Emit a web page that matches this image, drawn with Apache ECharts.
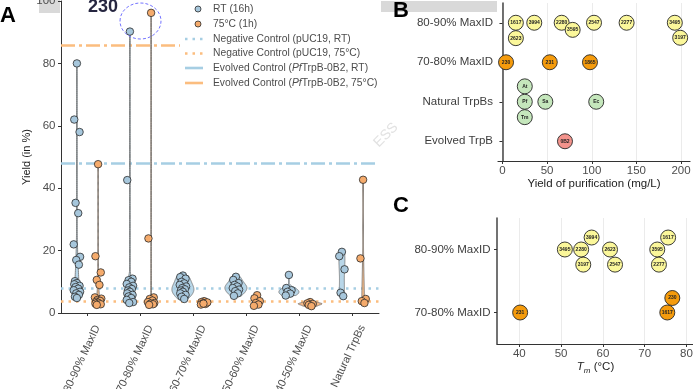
<!DOCTYPE html>
<html>
<head>
<meta charset="utf-8">
<script src="https://cdn.jsdelivr.net/npm/echarts@6.0.0/dist/echarts.min.js"></script>
<style>
html,body{margin:0;padding:0;background:#ffffff;}
#chart{width:693px;height:389px;}
</style>
</head>
<body>
<div id="chart"></div>
<script>
// ---------------- Data ----------------
// Panel A
const categoriesA = ['80-90% MaxID','70-80% MaxID','60-70% MaxID','50-60% MaxID','40-50% MaxID','Natural TrpBs'];
const yTicksA = [0, 20, 40, 60, 80, 100];
const rtYield = [
  [80, 62, 58, 35.3, 32, 22, 18, 17, 15.5, 10.2, 9.6, 9.2, 8.7, 8.3, 7.8, 7.3, 6.8, 6.3, 5.8, 5.2, 4.8],
  [90.2, 42.6, 11, 10.5, 10, 9.3, 8.7, 8.2, 7.7, 7.2, 6.8, 6.3, 5.8, 5.3, 4.8, 4.2, 3.5, 3.2],
  [12, 11.5, 11, 10, 9.5, 9, 8.5, 8, 7.6, 7.2, 6.8, 6.3, 5.8, 5.2, 4.5],
  [11.6, 10.6, 9.6, 9, 8.5, 8, 7.5, 7, 6.3, 5.5],
  [12.2, 8, 7.3, 6.8, 6.2, 5.6],
  [19.6, 18.2, 14, 6.5, 5.4]
];
const hotYield = [
  [47.7, 18.2, 13, 10.6, 9, 5, 4.6, 4.2, 3.9, 3.6, 3.3, 3.0, 2.8, 2.6],
  [96.2, 23.9, 5, 4.5, 4, 3.5, 3.2, 3, 2.8, 2.6],
  [3.8, 3.5, 3.3, 3.1, 2.9, 2.7, 3.4, 3.0],
  [5.7, 4.7, 3.8, 3.2, 2.7, 2.3],
  [3.5, 3.1, 2.9, 2.6, 2.2],
  [42.7, 17.5, 4.5, 3.8, 3.2]
];
const pointLabelsA = ['RT (16h)', '75°C (1h)'];
const controlLabels = ['Negative Control (pUC19, RT)', 'Negative Control (pUC19, 75°C)',
                       'Evolved Control ({i|Pf}TrpB-0B2, RT)', 'Evolved Control ({i|Pf}TrpB-0B2, 75°C)'];
const controlYield = [8.0, 3.8, 48.0, 85.8];
const highlightLabel = '230';

// Panel B
const categoriesB = ['80-90% MaxID', '70-80% MaxID', 'Natural TrpBs', 'Evolved TrpB'];
const ticksB = [0, 50, 100, 150, 200];
const b8090Names = ['1617','3994','2280','3595','2547','2277','3495','3197','2623'];
const b8090Yield = [15, 35.6, 66.3, 78.6, 102.5, 139, 193, 199, 15];
const b8090Swarm = [0, 0, 0, 0.18, 0, 0, 0, 0.38, 0.39];
const b7080Names = ['230','231','1865'];
const b7080Yield = [4, 53, 98];
const b7080Swarm = [0, 0, 0];
const bNatNames = ['At','Pf','Tm','Sa','Ec'];
const bNatYield = [25, 25, 25, 48, 105];
const bNatSwarm = [-0.39, 0, 0.39, 0, 0];
const bEvoNames = ['0B2'];
const bEvoYield = [70];
const bEvoSwarm = [0];

// Panel C
const categoriesC = ['80-90% MaxID', '70-80% MaxID'];
const ticksC = [40, 50, 60, 70, 80];
const c8090Names = ['3994','1617','3495','2280','2623','3595','3197','2547','2277'];
const c8090Tm = [57.3, 75.6, 50.9, 54.8, 61.7, 73.0, 55.3, 62.9, 73.4];
const c8090Swarm = [-0.19, -0.19, 0, 0, 0, 0, 0.24, 0.24, 0.24];
const c7080Names = ['231','230','1617'];
const c7080Tm = [40.2, 76.6, 75.4];
const c7080Swarm = [0, -0.23, 0];

// ---------------- Styling ----------------
const FONT = '"Liberation Sans", Arial, Helvetica, sans-serif';
const BLUE_PT = '#a7c7dc', ORANGE_PT = '#f5ab6c';
const BLUE_LN = '#a6cee3', ORANGE_LN = '#fbbd7f';
const BLUE_VI = 'rgba(166,204,226,0.8)', ORANGE_VI = 'rgba(243,170,108,0.8)';
const AX = '#333333', TXT = '#4d4d4d';
const DODGE = 0.2;
const JIT = [0, -0.05, 0.05, -0.025, 0.025, -0.06, 0.06, -0.012, 0.037, -0.037];
const violinWidthRT = [2, 3.5, 11, 11, 10, 3];
const violinWidthHot = [1.5, 1.5, 5, 4, 12, 1.3];
const DOTTED = [2.5, 5], DASHDOT = [14, 4, 3, 4];
const controlStyles = [
  {color: BLUE_LN, type: DOTTED}, {color: ORANGE_LN, type: DOTTED},
  {color: BLUE_LN, type: DASHDOT}, {color: ORANGE_LN, type: DASHDOT}
];

function pointsA(groups, dodge) {
  const out = [];
  groups.forEach((g, i) => g.forEach((v, j) => out.push([i + 1 + dodge + JIT[j % JIT.length], v])));
  return out;
}
function quantile(sorted, p) {
  const h = (sorted.length - 1) * p, lo = Math.floor(h), hi = Math.ceil(h);
  return sorted[lo] + (sorted[hi] - sorted[lo]) * (h - lo);
}
function nrd0(vals) {
  const n = vals.length, s = [...vals].sort((a, b) => a - b);
  const mean = vals.reduce((a, b) => a + b, 0) / n;
  const sd = Math.sqrt(vals.reduce((a, b) => a + (b - mean) * (b - mean), 0) / (n - 1));
  const iqr = quantile(s, 0.75) - quantile(s, 0.25);
  let lo = Math.min(sd, iqr / 1.34);
  if (!(lo > 0)) lo = sd || 1;
  return 0.9 * lo * Math.pow(n, -0.2);
}
function dens(vals, y, bw) {
  let s = 0;
  for (const v of vals) { const u = (y - v) / bw; s += Math.exp(-0.5 * u * u); }
  return s / (vals.length * bw * Math.sqrt(2 * Math.PI));
}
function violinSeries(groups, dodge, fill, widths) {
  return {
    type: 'custom', xAxisIndex: 0, yAxisIndex: 0, z: 3, silent: true, clip: false,
    data: groups.map((g, i) => [i + 1 + dodge, 0, i]),
    renderItem: function (params, api) {
      const i = api.value(2), x = api.value(0), vals = groups[i];
      const lo = Math.min(...vals), hi = Math.max(...vals), bw = nrd0(vals);
      const N = 120, ys = [], ds = [];
      for (let k = 0; k <= N; k++) { const y = lo + (hi - lo) * k / N; ys.push(y); ds.push(dens(vals, y, bw)); }
      const dmax = Math.max(...ds);
      const left = [], right = [];
      for (let k = 0; k <= N; k++) {
        const c = api.coord([x, ys[k]]);
        const w = Math.max(0.4, widths[i] * ds[k] / dmax);
        left.push([c[0] - w, c[1]]); right.push([c[0] + w, c[1]]);
      }
      return { type: 'polygon', shape: { points: left.concat(right.reverse()) },
               style: { fill: fill, stroke: '#707070', lineWidth: 0.8 } };
    }
  };
}
function swarmData(xs, rowIndex, swarm, names) {
  return xs.map((x, i) => [x, rowIndex + swarm[i], names[i]]);
}
function labelledScatter(xIdx, data, color) {
  return {
    type: 'scatter', xAxisIndex: xIdx, yAxisIndex: xIdx, data: data, symbolSize: 15, z: 5,
    itemStyle: { color: color, borderColor: '#262626', borderWidth: 0.9, opacity: 1 },
    label: { show: true, position: 'inside', formatter: p => p.value[2], fontSize: 5,
             fontWeight: 'bold', color: '#222', fontFamily: FONT },
    emphasis: { disabled: true }
  };
}
function gridLines(xIdx, ticks) {
  return {
    type: 'scatter', xAxisIndex: xIdx, yAxisIndex: xIdx, data: [], z: 0, silent: true,
    markLine: { silent: true, z: 0, animation: false, symbol: ['none', 'none'], label: { show: false },
      lineStyle: { color: '#ebebeb', width: 1, type: 'solid' },
      data: ticks.map(v => ({ xAxis: v })) }
  };
}

const chart = echarts.init(document.getElementById('chart'), null, { renderer: 'canvas' });

const labelBase = { color: TXT, fontFamily: FONT, fontSize: 11.5 };

const option = {
  animation: false,
  backgroundColor: '#ffffff',
  textStyle: { fontFamily: FONT },
  grid: [
    { left: 61, top: 1, width: 318, height: 312, containLabel: false, outerBoundsMode: 'none' },
    { left: 498, top: 3, width: 192, height: 158, containLabel: false, outerBoundsMode: 'none' },
    { left: 497, top: 218, width: 197, height: 126, containLabel: false, outerBoundsMode: 'none' }
  ],
  xAxis: [
    { gridIndex: 0, type: 'value', min: 0.5, max: 6.5,
      axisLine: { show: true, lineStyle: { color: AX, width: 1 } },
      axisTick: { show: true, length: 3, lineStyle: { color: AX }, customValues: [1, 2, 3, 4, 5, 6] },
      axisLabel: { customValues: [1, 2, 3, 4, 5, 6], formatter: v => categoriesA[Math.round(v) - 1],
                   rotate: 65, fontSize: 11, color: TXT, fontFamily: FONT, margin: 8,
                   verticalAlign: 'top', lineHeight: 22 },
      splitLine: { show: false } },
    { gridIndex: 1, type: 'value', min: -5, max: 210,
      axisLine: { show: true, lineStyle: { color: AX, width: 1.2 } },
      axisTick: { show: true, length: 3, lineStyle: { color: AX }, customValues: ticksB },
      axisLabel: Object.assign({ customValues: ticksB, margin: 3.5 }, labelBase),
      splitLine: { show: false },
      name: 'Yield of purification (mg/L)', nameLocation: 'middle', nameGap: 15.5,
      nameTextStyle: { fontSize: 11.5, color: '#222', fontFamily: FONT } },
    { gridIndex: 2, type: 'value', min: 34.665, max: 81.79,
      axisLine: { show: true, lineStyle: { color: AX, width: 1.2 } },
      axisTick: { show: true, length: 3, lineStyle: { color: AX }, customValues: ticksC },
      axisLabel: Object.assign({ customValues: ticksC, margin: 3.5 }, labelBase),
      splitLine: { show: false },
      name: '{i|T}{s|m}{n| (°C)}', nameLocation: 'middle', nameGap: 15,
      nameTextStyle: { fontSize: 11.5, color: '#222', fontFamily: FONT,
        rich: { i: { fontStyle: 'italic', fontSize: 11.5, color: '#222', fontFamily: FONT, lineHeight: 16 },
                s: { fontStyle: 'italic', fontSize: 8, color: '#222', fontFamily: FONT, lineHeight: 16, verticalAlign: 'bottom', padding: [6, 0, 0, 0] },
                n: { fontSize: 11.5, color: '#222', fontFamily: FONT, lineHeight: 16 } } } }
  ],
  yAxis: [
    { gridIndex: 0, type: 'value', min: 0, max: 100, interval: 20,
      axisLine: { show: true, lineStyle: { color: AX, width: 1 } },
      axisTick: { show: true, length: 3, lineStyle: { color: AX } },
      axisLabel: { fontSize: 11.5, color: TXT, fontFamily: FONT, margin: 5.5 },
      splitLine: { show: false },
      name: 'Yield (in %)', nameLocation: 'middle', nameGap: 23,
      nameTextStyle: { fontSize: 11, color: '#1a1a1a', fontFamily: FONT } },
    { gridIndex: 1, type: 'value', inverse: true, min: 0.5, max: 4.5,
      axisLine: { show: true, lineStyle: { color: '#444', width: 1.5 } },
      axisTick: { show: true, length: 3, lineStyle: { color: AX }, customValues: [1, 2, 3, 4] },
      axisLabel: Object.assign({ customValues: [1, 2, 3, 4], formatter: v => categoriesB[Math.round(v) - 1], margin: 5 }, labelBase, { color: '#3d3d3d' }),
      splitLine: { show: false } },
    { gridIndex: 2, type: 'value', inverse: true, min: 0.5, max: 2.5,
      axisLine: { show: true, lineStyle: { color: '#444', width: 1.5 } },
      axisTick: { show: true, length: 3, lineStyle: { color: AX }, customValues: [1, 2] },
      axisLabel: Object.assign({ customValues: [1, 2], formatter: v => categoriesC[Math.round(v) - 1], margin: 6.5 }, labelBase, { color: '#3d3d3d' }),
      splitLine: { show: false } }
  ],
  series: [
    { type: 'scatter', xAxisIndex: 0, yAxisIndex: 0, data: [], z: 1, silent: true,
      markLine: { silent: true, z: 1, animation: false, symbol: ['none', 'none'], label: { show: false },
        data: controlYield.map((v, i) => ({ yAxis: v, lineStyle: { color: controlStyles[i].color, width: 2.6, type: controlStyles[i].type } })) } },
    violinSeries(rtYield, -DODGE, BLUE_VI, violinWidthRT),
    violinSeries(hotYield, DODGE, ORANGE_VI, violinWidthHot),
    { name: pointLabelsA[0], type: 'scatter', xAxisIndex: 0, yAxisIndex: 0, z: 4, symbolSize: 7.5,
      data: pointsA(rtYield, -DODGE), emphasis: { disabled: true },
      itemStyle: { color: BLUE_PT, borderColor: '#2b2b2b', borderWidth: 0.8, opacity: 1 } },
    { name: pointLabelsA[1], type: 'scatter', xAxisIndex: 0, yAxisIndex: 0, z: 4, symbolSize: 7.5,
      data: pointsA(hotYield, DODGE), emphasis: { disabled: true },
      itemStyle: { color: ORANGE_PT, borderColor: '#2b2b2b', borderWidth: 0.8, opacity: 1 } },
    gridLines(1, ticksB),
    labelledScatter(1, swarmData(b8090Yield, 1, b8090Swarm, b8090Names), '#fbf79a'),
    labelledScatter(1, swarmData(b7080Yield, 2, b7080Swarm, b7080Names), '#f59b0c'),
    labelledScatter(1, swarmData(bNatYield, 3, bNatSwarm, bNatNames), '#c5e7bc'),
    labelledScatter(1, swarmData(bEvoYield, 4, bEvoSwarm, bEvoNames), '#f3938c'),
    gridLines(2, ticksC),
    labelledScatter(2, swarmData(c8090Tm, 1, c8090Swarm, c8090Names), '#fbf79a'),
    labelledScatter(2, swarmData(c7080Tm, 2, c7080Swarm, c7080Names), '#f59b0c')
  ],
  graphic: { elements: [] }
};

const G = option.graphic.elements;
function txt(text, x, y, font, fill, extra) {
  return Object.assign({ type: 'text', silent: true, z: 60,
    style: Object.assign({ text: text, x: x, y: y, font: font, fill: fill,
      verticalAlign: 'middle', textVerticalAlign: 'middle', align: 'left', textAlign: 'left' }, extra || {}) });
}
G.push({ type: 'rect', silent: true, z: -1, shape: { x: 39, y: 0, width: 21, height: 13 }, style: { fill: '#d9d9d9' } });
G.push({ type: 'rect', silent: true, z: -1, shape: { x: 381, y: 1, width: 116, height: 11 }, style: { fill: '#d9d9d9' } });
G.push({ type: 'rect', silent: true, z: 50, shape: { x: 180, y: 0, width: 200, height: 92 }, style: { fill: '#ffffff' } });
const legRows = [9, 24, 39, 53.5, 68, 83];
const legFont = '10.3px ' + FONT;
G.push({ type: 'circle', silent: true, z: 51, shape: { cx: 198, cy: legRows[0], r: 3 }, style: { fill: BLUE_PT, stroke: '#2b2b2b', lineWidth: 0.8 } });
G.push({ type: 'circle', silent: true, z: 51, shape: { cx: 198, cy: legRows[1], r: 3 }, style: { fill: ORANGE_PT, stroke: '#2b2b2b', lineWidth: 0.8 } });
G.push(txt(pointLabelsA[0], 213, legRows[0], legFont, TXT));
G.push(txt(pointLabelsA[1], 213, legRows[1], legFont, TXT));
controlLabels.forEach((lab, i) => {
  const y = legRows[i + 2];
  G.push({ type: 'line', silent: true, z: 51, shape: { x1: 185, y1: y, x2: 203, y2: y },
    style: { stroke: controlStyles[i].color, lineWidth: 2.6, lineDash: i < 2 ? DOTTED : null } });
  G.push(txt(lab, 213, y, legFont, TXT, { rich: { i: { fontStyle: 'italic', fontSize: 10.3, fontFamily: FONT, fill: TXT, color: TXT } } }));
});
G.push(txt('A', 0, 16, 'bold 22px ' + FONT, '#000'));
G.push(txt('B', 393, 11, 'bold 22px ' + FONT, '#000'));
G.push(txt('C', 393, 206, 'bold 22px ' + FONT, '#000'));
G.push(txt(highlightLabel, 88, 7, 'bold 18px ' + FONT, '#262640'));
G.push({ type: 'ellipse', silent: true, z: 60, shape: { cx: 140.5, cy: 21, rx: 20.5, ry: 18 },
  style: { fill: 'none', stroke: '#7474ff', lineWidth: 1, lineDash: [3, 2] } });
G.push({ type: 'text', silent: true, z: 40, x: 386, y: 135, rotation: Math.PI / 4,
  style: { text: 'ESS', x: 0, y: 0, font: '14px ' + FONT, fill: '#e2e2e2', align: 'center', verticalAlign: 'middle', textAlign: 'center', textVerticalAlign: 'middle' } });

chart.setOption(option);
</script>
</body>
</html>
